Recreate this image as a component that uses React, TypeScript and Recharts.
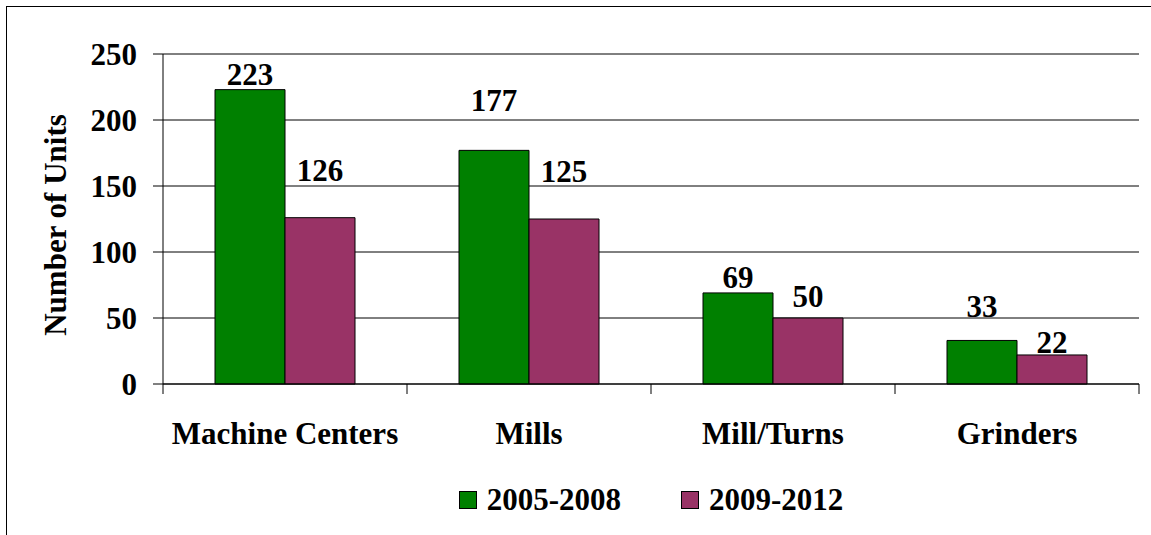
import {
  Bar,
  BarChart,
  CartesianGrid,
  LabelList,
  Legend,
  XAxis,
  YAxis,
} from "recharts";

const categories = ["Machine Centers", "Mills", "Mill/Turns", "Grinders"];
const units2005to2008 = [223, 177, 69, 33];
const units2009to2012 = [126, 125, 50, 22];
const yTicks = [0, 50, 100, 150, 200, 250];

const SERIES = [
  { key: "a", name: "2005-2008", color: "#008000" },
  { key: "b", name: "2009-2012", color: "#993366" },
];

// the original places some value labels higher than the bar top (px)
const LABEL_LIFT: Record<string, number[]> = {
  a: [0, 34, 0, 18],
  b: [32, 32, 6, -3],
};

const FONT = "Liberation Serif, Times New Roman, serif";
const textStyle = { fontFamily: FONT, fontSize: 31, fontWeight: "bold" as const, fill: "#000" };

const chartData = categories.map((name, i) => ({
  name,
  a: units2005to2008[i],
  b: units2009to2012[i],
}));

const valueLabel = (key: string) => (props: any) => {
  const { x, y, width, value, index } = props;
  return (
    <text
      x={Number(x) + Number(width) / 2}
      y={Number(y) - 5 - LABEL_LIFT[key][index]}
      textAnchor="middle"
      style={textStyle}
    >
      {value}
    </text>
  );
};

// category label plus tick marks on the category boundaries
const CategoryTick = (props: any) => {
  const { x, y, payload, index, visibleTicksCount } = props;
  const half = payload?.offset ?? 0;
  const last = index === visibleTicksCount - 1;
  return (
    <g>
      <line x1={x - half} x2={x - half} y1={y} y2={y + 10} stroke="#000" />
      {last && <line x1={x + half} x2={x + half} y1={y} y2={y + 10} stroke="#000" />}
      <text x={x} y={y + 38} dy="0.71em" textAnchor="middle" style={textStyle}>
        {payload.value}
      </text>
    </g>
  );
};

const LegendContent = () => (
  <div
    style={{
      display: "flex",
      justifyContent: "center",
      alignItems: "center",
      gap: 60,
      height: 40,
      fontFamily: FONT,
      fontSize: 31,
      fontWeight: "bold",
      color: "#000",
    }}
  >
    {SERIES.map((s) => (
      <div key={s.key} style={{ display: "flex", alignItems: "center", gap: 10 }}>
        <span
          style={{
            width: 16,
            height: 16,
            background: s.color,
            border: "1.5px solid #000",
            display: "inline-block",
          }}
        />
        <span>{s.name}</span>
      </div>
    ))}
  </div>
);

export default function App() {
  return (
    <div
      style={{
        position: "absolute",
        left: 0,
        top: 0,
        width: 1151,
        height: 535,
        overflow: "hidden",
        background: "#fff",
      }}
    >
      <div
        style={{
          position: "absolute",
          left: 6,
          top: 6,
          width: 1145,
          height: 529,
          borderLeft: "1px solid #000",
          borderTop: "1px solid #000",
          boxSizing: "border-box",
        }}
      />
      <div style={{ position: "absolute", left: 0, top: 0 }}>
        <BarChart
          width={1151}
          height={535}
          data={chartData}
          margin={{ top: 54, right: 12, left: 0, bottom: 71 }}
          barGap={0}
        >
          <CartesianGrid vertical={false} stroke="#000" />
          <XAxis
            dataKey="name"
            height={80}
            tickSize={0}
            tickMargin={0}
            tickLine={false}
            axisLine={{ stroke: "#000" }}
            tick={<CategoryTick />}
            interval={0}
          />
          <YAxis
            width={163}
            domain={[0, 250]}
            ticks={yTicks}
            tickSize={10}
            tickMargin={16}
            axisLine={{ stroke: "#000" }}
            tickLine={{ stroke: "#000" }}
            tick={textStyle}
            label={{
              content: () => (
                <text
                  transform="translate(66,225) rotate(-90)"
                  textAnchor="middle"
                  style={textStyle}
                >
                  Number of Units
                </text>
              ),
            }}
          />
          <YAxis
            yAxisId="frame"
            orientation="right"
            width={0}
            tick={false}
            tickLine={false}
            axisLine={{ stroke: "#000" }}
          />
          <Legend
            verticalAlign="middle"
            wrapperStyle={{ top: 480, left: 163, width: 976 }}
            content={<LegendContent />}
          />
          {SERIES.map((s) => (
            <Bar
              key={s.key}
              dataKey={s.key}
              name={s.name}
              fill={s.color}
              stroke="#000"
              strokeWidth={1}
              barSize={70}
              isAnimationActive={false}
            >
              <LabelList dataKey={s.key} content={valueLabel(s.key)} />
            </Bar>
          ))}
        </BarChart>
      </div>
    </div>
  );
}
